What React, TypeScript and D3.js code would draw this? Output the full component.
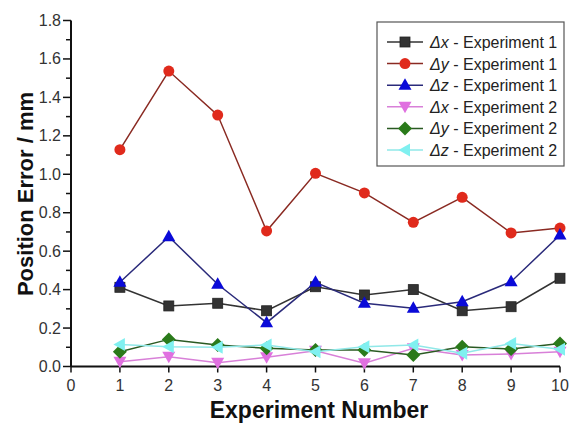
import React from "react";
import * as d3 from "d3";

const experiments = [1, 2, 3, 4, 5, 6, 7, 8, 9, 10];

const dxExp1 = [0.412, 0.315, 0.329, 0.29, 0.415, 0.372, 0.4, 0.29, 0.311, 0.459];
const dyExp1 = [1.128, 1.537, 1.308, 0.705, 1.005, 0.903, 0.75, 0.88, 0.695, 0.72];
const dzExp1 = [0.438, 0.675, 0.428, 0.228, 0.438, 0.329, 0.303, 0.337, 0.441, 0.684];
const dxExp2 = [0.025, 0.051, 0.02, 0.048, 0.082, 0.017, 0.095, 0.06, 0.065, 0.077];
const dyExp2 = [0.077, 0.141, 0.112, 0.095, 0.086, 0.086, 0.06, 0.103, 0.091, 0.12];
const dzExp2 = [0.115, 0.103, 0.1, 0.112, 0.077, 0.103, 0.112, 0.069, 0.12, 0.09];

const xTicks = [0, 1, 2, 3, 4, 5, 6, 7, 8, 9, 10];
const yTicks = [0, 0.2, 0.4, 0.6, 0.8, 1.0, 1.2, 1.4, 1.6, 1.8];
const yMinorTicks = [0.1, 0.3, 0.5, 0.7, 0.9, 1.1, 1.3, 1.5, 1.7];

const series = [
  { sym: "x", exp: 1, values: dxExp1, color: "#333333", line: "#333333", shape: "square" },
  { sym: "y", exp: 1, values: dyExp1, color: "#e02a1c", line: "#8a2a22", shape: "circle" },
  { sym: "z", exp: 1, values: dzExp1, color: "#0a0ad8", line: "#2a2a7a", shape: "triUp" },
  { sym: "x", exp: 2, values: dxExp2, color: "#e070e0", line: "#d880d8", shape: "triDown" },
  { sym: "y", exp: 2, values: dyExp2, color: "#2a7a1a", line: "#2a5a22", shape: "diamond" },
  { sym: "z", exp: 2, values: dzExp2, color: "#80f0f0", line: "#90e8e8", shape: "triLeft" },
];

const Marker = ({ shape, x, y, color }: { shape: string; x: number; y: number; color: string }) => {
  const s = 5;
  if (shape === "square") return <rect x={x - s} y={y - s} width={2 * s} height={2 * s} fill={color} stroke="#222" strokeWidth={0.8} />;
  if (shape === "circle") return <circle cx={x} cy={y} r={5.5} fill={color} />;
  let pts: number[][] = [];
  if (shape === "triUp") pts = [[x, y - 7], [x - 6.5, y + 4.5], [x + 6.5, y + 4.5]];
  if (shape === "triDown") pts = [[x, y + 6.5], [x - 6.5, y - 5], [x + 6.5, y - 5]];
  if (shape === "triLeft") pts = [[x - 6.5, y], [x + 5, y - 6.5], [x + 5, y + 6.5]];
  if (shape === "diamond") pts = [[x, y - 7], [x + 7, y], [x, y + 7], [x - 7, y]];
  return <polygon points={pts.map((p) => p.join(",")).join(" ")} fill={color} />;
};

export default function App() {
  const width = 571;
  const height = 424;
  const x = d3.scaleLinear().domain([0, 10]).range([71, 560]);
  const y = d3.scaleLinear().domain([0, 1.8]).range([366.5, 20.5]);
  const line = d3
    .line<number>()
    .x((_, i) => x(experiments[i]))
    .y((d) => y(d));

  const font = "'Liberation Sans', Arial, sans-serif";
  const legendX = 377;
  const legendY = 22;
  const rowH = 21.6;

  return (
    <svg width={width} height={height} style={{ position: "absolute", left: 0, top: 0, background: "#fff" }} fontFamily={font}>
      {/* axes */}
      <line x1={x(0)} x2={x(10)} y1={y(0)} y2={y(0)} stroke="#111" strokeWidth={2} />
      <line x1={x(0)} x2={x(0)} y1={y(0)} y2={y(1.8)} stroke="#111" strokeWidth={2} />
      {xTicks.map((t) => (
        <g key={"xt" + t}>
          <line x1={x(t)} x2={x(t)} y1={y(0)} y2={y(0) + 6} stroke="#111" strokeWidth={1.5} />
          <text x={x(t)} y={y(0) + 24} textAnchor="middle" fontSize={16} fill="#333">
            {t}
          </text>
        </g>
      ))}
      {yTicks.map((t) => (
        <g key={"yt" + t}>
          <line x1={x(0) - 8} x2={x(0)} y1={y(t)} y2={y(t)} stroke="#111" strokeWidth={1.5} />
          <text x={x(0) - 10} y={y(t) + 5.5} textAnchor="end" fontSize={16} fill="#333">
            {t.toFixed(1)}
          </text>
        </g>
      ))}
      {yMinorTicks.map((t) => (
        <line key={"ym" + t} x1={x(0) - 5} x2={x(0)} y1={y(t)} y2={y(t)} stroke="#111" strokeWidth={1.5} />
      ))}

      {/* axis titles */}
      <text x={319} y={418} textAnchor="middle" fontSize={23} fontWeight="bold" fill="#111">
        Experiment Number
      </text>
      <text transform="translate(33,194) rotate(-90)" textAnchor="middle" fontSize={22} fontWeight="bold" fill="#111">
        Position Error / mm
      </text>

      {/* series */}
      {series.map((s, k) => (
        <g key={"s" + k}>
          <path d={line(s.values) || ""} fill="none" stroke={s.line} strokeWidth={1.5} />
          {s.values.map((v, i) => (
            <Marker key={i} shape={s.shape} x={x(experiments[i])} y={y(v)} color={s.color} />
          ))}
        </g>
      ))}

      {/* legend */}
      <rect x={legendX} y={legendY} width={187} height={144} fill="#fff" stroke="#555" strokeWidth={1.2} />
      {series.map((s, k) => {
        const cy = legendY + 20 + k * rowH;
        return (
          <g key={"l" + k}>
            <line x1={387} x2={423} y1={cy} y2={cy} stroke={s.line} strokeWidth={1.5} />
            <Marker shape={s.shape} x={405} y={cy} color={s.color} />
            <text x={430} y={cy + 6} fontSize={16} fill="#222">
              <tspan fontStyle="italic">Δ{s.sym}</tspan>
              {" - Experiment " + s.exp}
            </text>
          </g>
        );
      })}
    </svg>
  );
}
